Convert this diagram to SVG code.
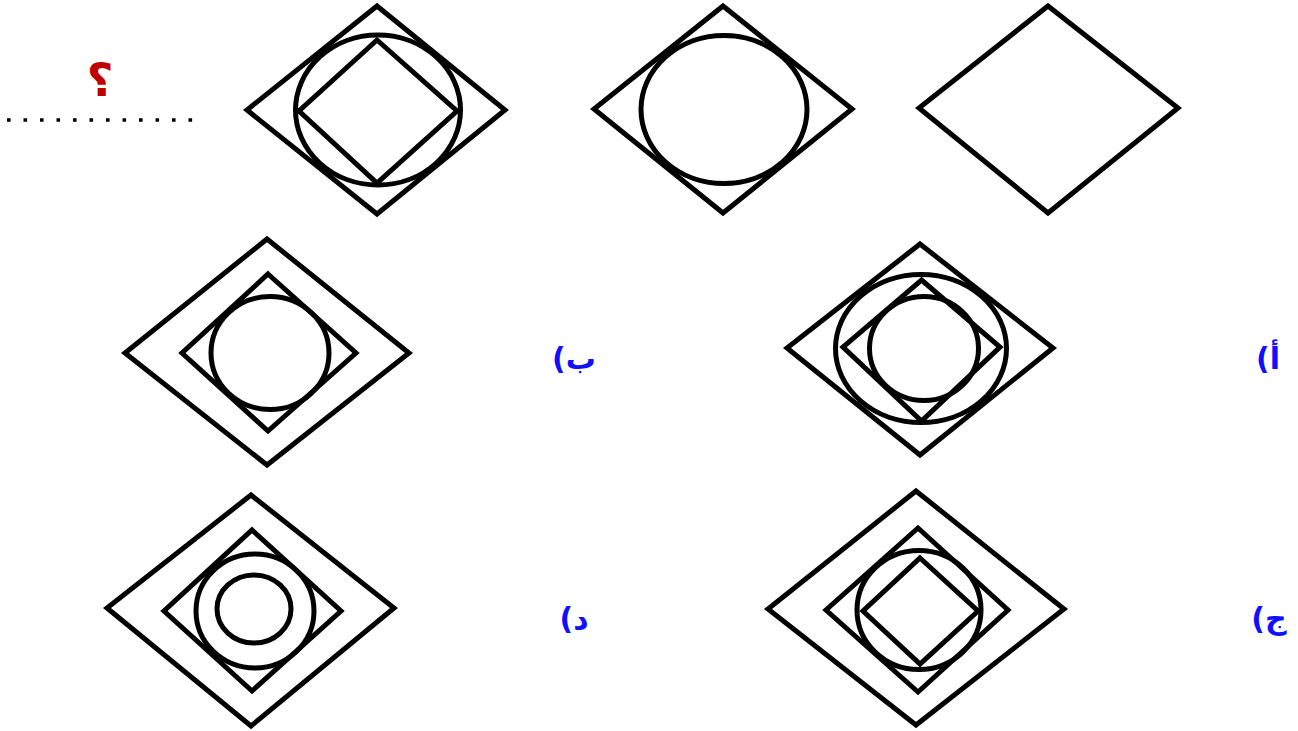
<svg xmlns="http://www.w3.org/2000/svg" width="1298" height="731" viewBox="0 0 1298 731">
<style>
.s{fill:none;stroke:#000;stroke-width:5;stroke-linejoin:miter}
.lbl{font-family:"DejaVu Sans",sans-serif;font-weight:bold;font-size:30px;fill:#1010ff;text-anchor:middle}
</style>
<rect width="1298" height="731" fill="#fff"/>
<g id="question">
<text x="100" y="96" style="font-family:'DejaVu Sans',sans-serif;font-weight:bold;font-size:46px;fill:#c00000;text-anchor:middle" direction="rtl">؟</text>
<line x1="7" y1="120" x2="193" y2="120" stroke="#000" stroke-width="3.6" stroke-dasharray="3.6 12.9"/>
</g>
<g id="fig1">
<polygon class="s" points="377,6 505,110 377,214 247,110"/>
<ellipse class="s" cx="378" cy="110" rx="82.5" ry="75"/>
<polygon class="s" points="377,40 457,111 377,183 299,111"/>
</g>
<g id="fig2">
<polygon class="s" points="723,6 852,109 723,213 594,109"/>
<ellipse class="s" cx="724" cy="109.5" rx="83" ry="74"/>
</g>
<g id="fig3">
<polygon class="s" points="1048,6 1178,108 1048,213 919,108"/>
</g>
<g id="optB">
<polygon class="s" points="267,239 409,353 267,465 125,353"/>
<polygon class="s" points="268,274 356,353 268,431 182,353"/>
<ellipse class="s" cx="270" cy="353" rx="59" ry="56.5"/>
</g>
<g id="optA">
<polygon class="s" points="920,244 1053,348 920,455 787,348"/>
<ellipse class="s" cx="921" cy="348.5" rx="85.5" ry="74"/>
<polygon class="s" points="921.5,280 1000,347 921.5,421 843,347"/>
<ellipse class="s" cx="924" cy="348.5" rx="54.5" ry="52"/>
</g>
<g id="optD">
<polygon class="s" points="251,495 394,608 251,726 107,608"/>
<polygon class="s" points="252,530 341,611 252,691 164,611"/>
<ellipse class="s" cx="255" cy="611" rx="59" ry="57"/>
<ellipse class="s" cx="254" cy="609" rx="37" ry="34"/>
</g>
<g id="optC">
<polygon class="s" points="916,491 1064,609 916,725 768,609"/>
<polygon class="s" points="918,528 1008,610 918,692 826,610"/>
<ellipse class="s" cx="919" cy="610" rx="62" ry="59.5"/>
<polygon class="s" points="920,558 978,611 920,664 863,611"/>
</g>
<g id="labels">
<text class="lbl" x="574" y="369" direction="rtl">ب)</text>
<text class="lbl" x="1268" y="369" direction="rtl">أ)</text>
<text class="lbl" x="574" y="629" direction="rtl">د)</text>
<text class="lbl" x="1269" y="629" direction="rtl">ج)</text>
</g>
</svg>
